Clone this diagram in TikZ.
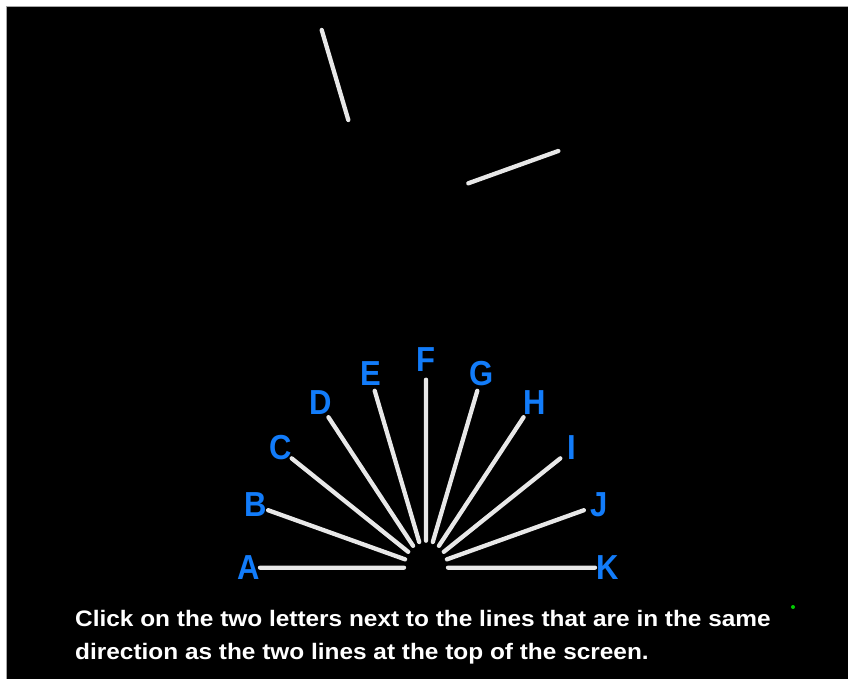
\documentclass[tikz,border=0pt]{standalone}
\usepackage{fontspec}
\setmainfont{Liberation Sans}
\usetikzlibrary{positioning}
\definecolor{letterblue}{RGB}{18,124,250}
\definecolor{spokegray}{RGB}{232,232,232}
\newcommand{\tall}[1]{\scalebox{1}[1.12]{#1}}
\newcommand{\wide}[1]{\scalebox{1.22}[1.12]{#1}}

\begin{document}
\begin{tikzpicture}[x=1pt, y=1pt,
    spoke/.style={draw=spokegray, line width=4.3pt, line cap=round},
    letter/.style={text=letterblue, font=\fontsize{31}{31}\selectfont\bfseries, inner sep=0pt},
    prompt/.style={text=white, font=\fontsize{20}{24}\selectfont\bfseries, inner sep=0pt, anchor=base west}]
   % screen
   \useasboundingbox (0,0) rectangle (848,679);
   \fill[white] (0,0) rectangle (848,679);
   \draw[fill=black, draw=gray!70, line width=1pt] (6,-4) rectangle (852,672);

   % the two lines at the top
   \coordinate (t1a) at (321.7,649);
   \coordinate (t1b) at (348.3,559);
   \coordinate (t2a) at (468.3,495.7);
   \coordinate (t2b) at (558.3,528);
   \draw[spoke] (t1a) -- (t1b) (t2a) -- (t2b);

   % the fan of lines
   \begin{scope}[shift={(426,111.3)}]
   \coordinate (iA) at (180:22 and 27);
   \coordinate (iB) at (162:22 and 27);
   \coordinate (iC) at (144:22 and 27);
   \coordinate (iD) at (126:22 and 27);
   \coordinate (iE) at (108:22 and 27);
   \coordinate (iF) at (90:22 and 27);
   \coordinate (iG) at (72:22 and 27);
   \coordinate (iH) at (54:22 and 27);
   \coordinate (iI) at (36:22 and 27);
   \coordinate (iJ) at (18:22 and 27);
   \coordinate (iK) at (0:22 and 27);

   \coordinate (oA) at (180:166 and 186);
   \coordinate (oB) at (162:166 and 186);
   \coordinate (oC) at (144:166 and 186);
   \coordinate (oD) at (126:166 and 186);
   \coordinate (oE) at (108:166 and 186);
   \coordinate (oF) at (90:166 and 188);
   \coordinate (oG) at (72:166 and 186);
   \coordinate (oH) at (54:166 and 186);
   \coordinate (oI) at (36:166 and 186);
   \coordinate (oJ) at (18:166 and 186);
   \coordinate (oK) at (0:169 and 186);

   \node[letter] (A) at (180:177 and 204) {\tall{A}};
   \node[letter] (B) at (162:179 and 204) {\tall{B}};
   \node[letter] (C) at (144:180 and 204) {\tall{C}};
   \node[letter] (D) at (126:180 and 204) {\tall{D}};
   \node[letter] (E) at (108:180 and 204) {\tall{E}};
   \node[letter] (F) at (90:180 and 208) {\tall{F}};
   \node[letter] (G) at (72:180 and 204) {\tall{G}};
   \node[letter] (H) at (54:185 and 204) {\tall{H}};
   \node[letter] (I) at (36:180 and 204) {\tall{I}};
   \node[letter] (J) at (18:182 and 204) {\tall{J}};
   \node[letter] (K) at (0:182 and 204) {\tall{K}};
   \end{scope}

   \draw[spoke]
    (iA) -- (oA) (iB) -- (oB) (iC) -- (oC) (iD) -- (oD)
    (iE) -- (oE) (iF) -- (oF) (iG) -- (oG) (iH) -- (oH)
    (iI) -- (oI) (iJ) -- (oJ) (iK) -- (oK);

   % question
   \node[prompt] (ask1) at (75,52) {\wide{Click on the two letters next to the lines that are in the same}};
   \node[prompt] (ask2) at ([yshift=-33]ask1.base west) {\wide{direction as the two lines at the top of the screen.}};

   \fill[green!80!black] (793,72) circle (2);
\end{tikzpicture}
\end{document}
